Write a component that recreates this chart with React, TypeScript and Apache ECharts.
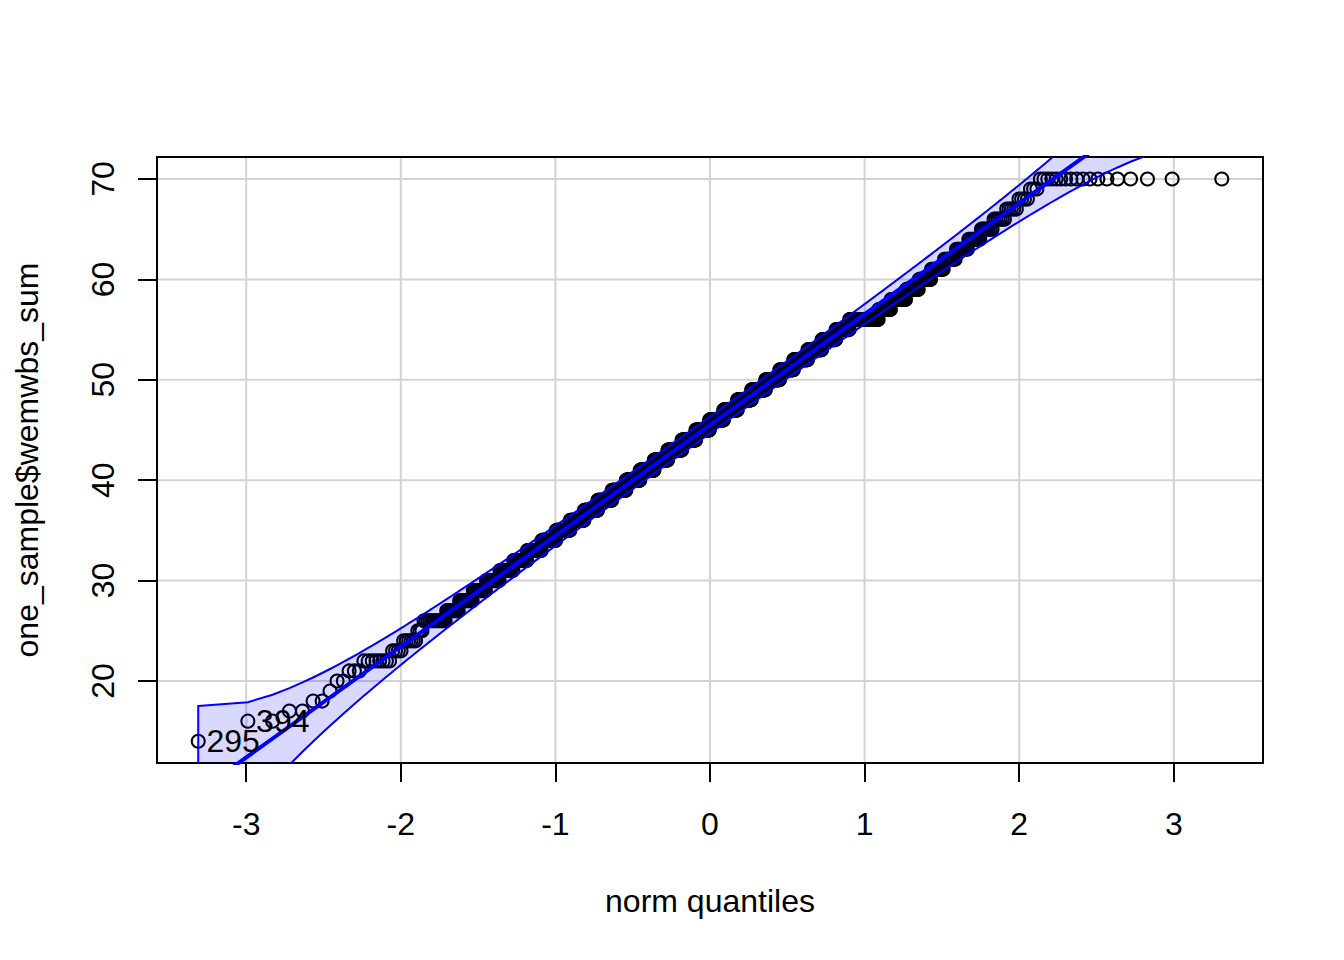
import React, { useEffect, useRef } from "react";
import * as echarts from "echarts";

// Observed scores (one_sample$wemwbs_sum) and how many respondents had each score
const scoreValues = [
  14, 15, 16, 17, 18, 19, 20, 21, 22, 23, 24, 25, 26, 27, 28, 29, 30, 31, 32, 33,
  34, 35, 36, 37, 38, 39, 40, 41, 42, 43, 44, 45, 46, 47, 48, 49, 50, 51, 52, 53,
  54, 55, 56, 57, 58, 59, 60, 61, 62, 63, 64, 65, 66, 67, 68, 69, 70,
];
const scoreCounts = [
  1, 0, 2, 2, 2, 1, 2, 3, 8, 4, 6, 3, 13, 9, 11, 12, 14, 16, 18, 21,
  23, 25, 27, 28, 31, 33, 34, 36, 36, 38, 38, 38, 39, 38, 38, 37, 36, 34, 33, 31,
  29, 26, 49, 18, 20, 15, 13, 12, 10, 9, 8, 7, 6, 5, 4, 3, 18,
];
// ids of the two most extreme (lowest) observations, labelled in the plot
const pointIds = ["295", "394"];

// robust reference line: y = a + b * z
const lineIntercept = 45.5;
const lineSlope = 11.04;
const envelopeLevel = 0.95;

const xTicks = [-3, -2, -1, 0, 1, 2, 3];
const yTicks = [20, 30, 40, 50, 60, 70];
const xLimits = [-3.577, 3.577];
const yLimits = [11.83, 72.19];

const FONT = "'Liberation Sans', Arial, Helvetica, sans-serif";

function qnorm(p: number): number {
  const a = [-3.969683028665376e1, 2.209460984245205e2, -2.759285104469687e2, 1.38357751867269e2, -3.066479806614716e1, 2.506628277459239];
  const b = [-5.447609879822406e1, 1.615858368580409e2, -1.556989798598866e2, 6.680131188771972e1, -1.328068155288572e1];
  const c = [-7.784894002430293e-3, -3.223964580411365e-1, -2.400758277161838, -2.549732539343734, 4.374664141464968, 2.938163982698783];
  const d = [7.784695709041462e-3, 3.224671290700398e-1, 2.445134137142996, 3.754408661907416];
  const pl = 0.02425;
  if (p < pl) {
    const q = Math.sqrt(-2 * Math.log(p));
    return (((((c[0] * q + c[1]) * q + c[2]) * q + c[3]) * q + c[4]) * q + c[5]) / ((((d[0] * q + d[1]) * q + d[2]) * q + d[3]) * q + 1);
  }
  if (p <= 1 - pl) {
    const q = p - 0.5;
    const r = q * q;
    return ((((((a[0] * r + a[1]) * r + a[2]) * r + a[3]) * r + a[4]) * r + a[5]) * q) / (((((b[0] * r + b[1]) * r + b[2]) * r + b[3]) * r + b[4]) * r + 1);
  }
  const q = Math.sqrt(-2 * Math.log(1 - p));
  return -(((((c[0] * q + c[1]) * q + c[2]) * q + c[3]) * q + c[4]) * q + c[5]) / ((((d[0] * q + d[1]) * q + d[2]) * q + d[3]) * q + 1);
}
const dnorm = (z: number) => Math.exp(-0.5 * z * z) / Math.sqrt(2 * Math.PI);

function buildQQ() {
  const sorted: number[] = [];
  scoreValues.forEach((s, k) => {
    for (let j = 0; j < scoreCounts[k]; j++) sorted.push(s);
  });
  const n = sorted.length;
  const aa = n <= 10 ? 3 / 8 : 0.5;
  const P = sorted.map((_, i) => (i + 1 - aa) / (n + 1 - 2 * aa));
  const z = P.map(qnorm);
  const zz = qnorm(1 - (1 - envelopeLevel) / 2);
  const upper: number[][] = [];
  const lower: number[][] = [];
  z.forEach((zi, i) => {
    const se = (lineSlope / dnorm(zi)) * Math.sqrt((P[i] * (1 - P[i])) / n);
    const fit = lineIntercept + lineSlope * zi;
    upper.push([zi, fit + zz * se]);
    lower.push([zi, fit - zz * se]);
  });
  const pts = sorted.map((y, i) => [z[i], y]);
  return { pts, upper, lower };
}

export default function App() {
  const ref = useRef<HTMLDivElement>(null);
  useEffect(() => {
    if (!ref.current) return;
    const chart = echarts.init(ref.current, undefined, { renderer: "svg" });
    const { pts, upper, lower } = buildQQ();
    const polygon = upper.concat(lower.slice().reverse());

    const option: any = {
      animation: false,
      backgroundColor: "#ffffff",
      grid: { left: 157, right: 81, top: 157, bottom: 197, show: false },
      xAxis: {
        type: "value",
        min: xLimits[0],
        max: xLimits[1],
        name: "norm quantiles",
        nameLocation: "middle",
        nameGap: 122,
        nameTextStyle: { fontFamily: FONT, fontSize: 32, color: "#000" },
        axisLine: { show: true, onZero: false, lineStyle: { color: "#000", width: 2 } },
        axisTick: { show: true, customValues: xTicks, length: 19, lineStyle: { color: "#000", width: 2 } },
        axisLabel: { customValues: xTicks, fontFamily: FONT, fontSize: 32, color: "#000", margin: 45 },
        splitLine: { show: false },
      },
      yAxis: {
        type: "value",
        min: yLimits[0],
        max: yLimits[1],
        name: "one_sample$wemwbs_sum",
        nameLocation: "middle",
        nameRotate: 90,
        nameGap: 114,
        nameTextStyle: { fontFamily: FONT, fontSize: 32, color: "#000" },
        axisLine: { show: true, onZero: false, lineStyle: { color: "#000", width: 2 } },
        axisTick: { show: true, customValues: yTicks, length: 19, lineStyle: { color: "#000", width: 2 } },
        axisLabel: { customValues: yTicks, rotate: 90, fontFamily: FONT, fontSize: 32, color: "#000", margin: 38 },
        splitLine: { show: false },
      },
      series: [
        {
          type: "custom",
          silent: true,
          z: 1,
          data: [[0, 0]],
          renderItem: (params: any, api: any) => {
            const children: any[] = [];
            const x0 = api.coord([xLimits[0], yLimits[0]]);
            const x1 = api.coord([xLimits[1], yLimits[1]]);
            xTicks.forEach((t) => {
              const p = api.coord([t, yLimits[0]]);
              children.push({ type: "line", shape: { x1: p[0], y1: x0[1], x2: p[0], y2: x1[1] }, style: { stroke: "#d3d3d3", lineWidth: 2 } });
            });
            yTicks.forEach((t) => {
              const p = api.coord([xLimits[0], t]);
              children.push({ type: "line", shape: { x1: x0[0], y1: p[1], x2: x1[0], y2: p[1] }, style: { stroke: "#d3d3d3", lineWidth: 2 } });
            });
            children.push({
              type: "rect",
              shape: { x: x0[0], y: x1[1], width: x1[0] - x0[0], height: x0[1] - x1[1] },
              style: { fill: "none", stroke: "#000", lineWidth: 2 },
            });
            return { type: "group", children };
          },
        },
        {
          type: "scatter",
          z: 2,
          data: pts,
          symbol: "circle",
          symbolSize: 13,
          itemStyle: { color: "rgba(0,0,0,0)", borderColor: "#000", borderWidth: 2, opacity: 1 },
          emphasis: { disabled: true },
        },
        {
          type: "line",
          z: 3,
          data: [
            [xLimits[0], lineIntercept + lineSlope * xLimits[0]],
            [xLimits[1], lineIntercept + lineSlope * xLimits[1]],
          ],
          showSymbol: false,
          symbol: "none",
          lineStyle: { color: "#0000ff", width: 4 },
          clip: true,
          silent: true,
        },
        {
          type: "custom",
          z: 4,
          clip: true,
          silent: true,
          data: [[0, 0]],
          renderItem: (params: any, api: any) => {
            const points = polygon.map((p) => api.coord(p));
            return {
              type: "polygon",
              shape: { points },
              style: { fill: "rgba(0,0,255,0.15)", stroke: "#0000ff", lineWidth: 2 },
            };
          },
        },
        {
          type: "scatter",
          z: 5,
          data: pts.slice(0, pointIds.length).map((p, i) => ({
            value: p,
            label: {
              show: true,
              formatter: pointIds[i],
              position: "right",
              distance: 8,
              fontFamily: FONT,
              fontSize: 32,
              color: "#000",
              opacity: 1,
            },
          })),
          symbol: "circle",
          symbolSize: 0.5,
          itemStyle: { color: "#000", opacity: 1 },
          silent: true,
        },
      ],
    };
    chart.setOption(option);
    return () => chart.dispose();
  }, []);
  return (
    <div
      ref={ref}
      style={{ position: "fixed", left: 0, top: 0, width: 1344, height: 960, background: "#fff" }}
    />
  );
}
